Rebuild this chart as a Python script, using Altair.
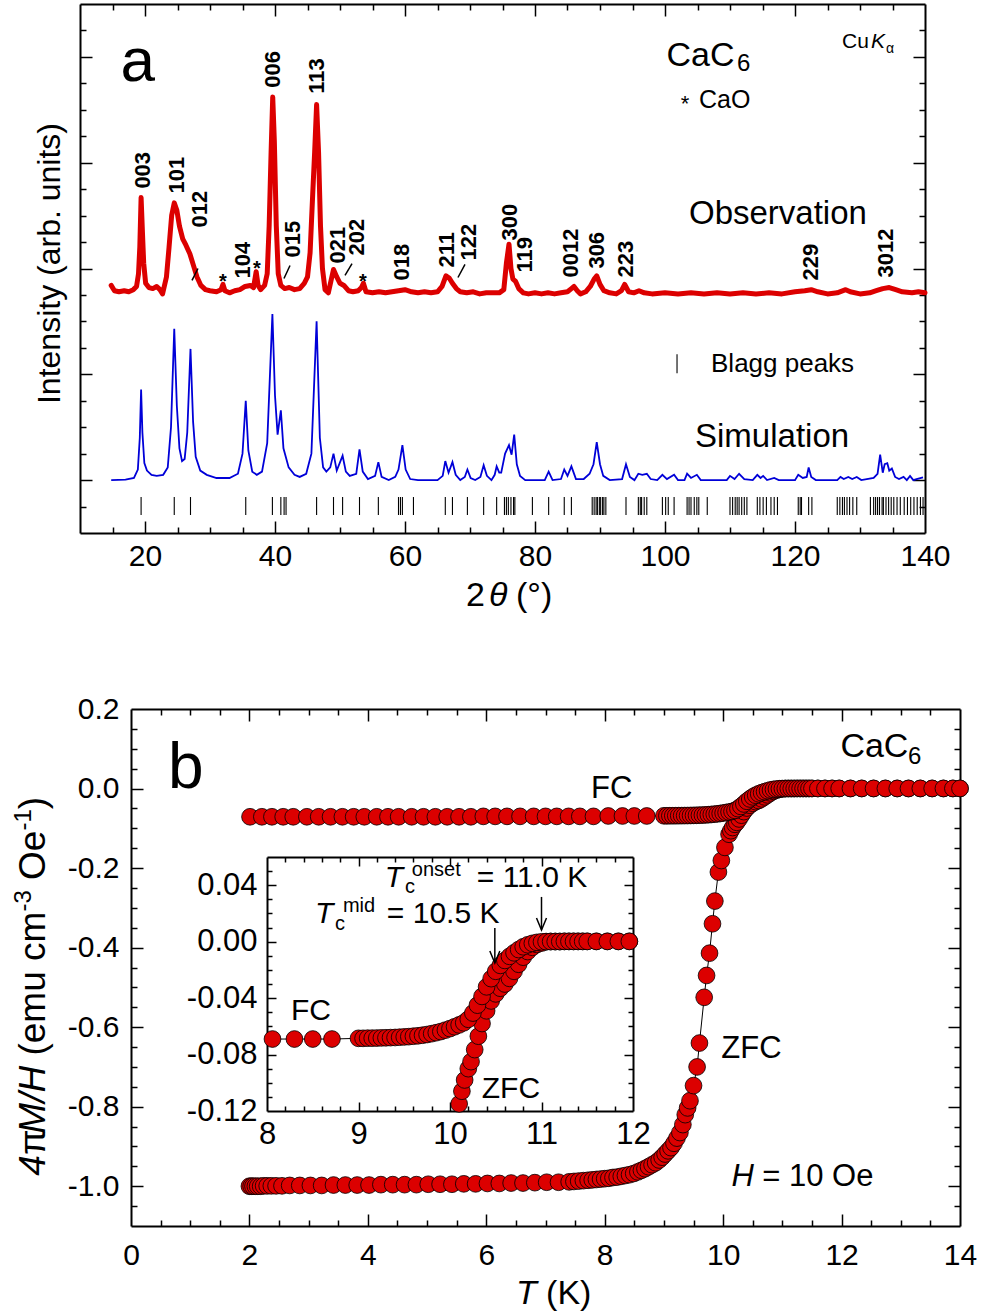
import altair as alt
import pandas as pd

W, H = 983, 1314
FONT = "Liberation Sans"
RED = "#dc0000"
BLUE = "#0000d8"

# ---------------- panel a : X-ray diffraction ----------------
obs_2theta = [14.8, 15.3, 16.0, 16.8, 17.5, 18.2, 18.7, 19.0, 19.2, 19.4, 19.6, 19.8, 20.1, 20.6, 21.2,
              21.8, 22.3, 22.7, 23.3, 23.7, 24.1, 24.5, 24.9, 25.3, 25.8, 26.3, 26.9, 27.5, 28.0, 28.6,
              29.3, 30.0, 31.0, 31.7, 32.0, 32.3, 33.0, 33.8, 34.6, 35.4, 36.2, 36.7, 37.1, 37.4, 37.8,
              38.4, 38.8, 39.1, 39.4, 39.65, 39.9, 40.2, 40.5, 40.9, 41.5, 42.2, 43.0, 43.8, 44.5, 45.0,
              45.4, 45.8, 46.1, 46.4, 46.7, 47.0, 47.3, 47.7, 48.2, 48.6, 49.0, 49.5, 50.0, 50.6, 51.3,
              52.0, 52.8, 53.3, 53.6, 54.0, 55.0, 56.0, 57.0, 58.0, 59.0, 60.0, 61.0, 62.0, 63.0, 64.0,
              65.0, 65.7, 66.3, 66.8, 67.3, 67.9, 68.5, 69.5, 70.5, 71.5, 72.5, 73.5, 74.5, 75.2, 75.6,
              76.0, 76.3, 76.6, 77.0, 77.5, 78.2, 79.0, 80.0, 81.0, 82.0, 83.0, 84.0, 85.0, 85.6, 86.0,
              86.5, 87.0, 87.8, 88.5, 89.1, 89.5, 90.0, 90.6, 91.5, 92.5, 93.3, 93.8, 94.4, 95.2, 96.0,
              96.8, 98.0, 100.0, 102.0, 104.0, 106.0, 108.0, 110.0, 112.0, 114.0, 116.0, 118.0, 120.0, 121.5, 122.5,
              123.5, 125.0, 126.5, 127.8, 128.5, 130.0, 131.5, 132.5, 133.5, 134.5, 135.5, 136.5, 138.0, 139.0, 140.0]
obs_intensity = [1.84, 1.79, 1.78, 1.79, 1.78, 1.80, 1.83, 1.95, 2.20, 2.67, 2.35, 2.05, 1.86, 1.82, 1.81,
                 1.83, 1.80, 1.76, 1.92, 2.20, 2.50, 2.62, 2.55, 2.40, 2.28, 2.22, 2.14, 2.02, 1.92, 1.84,
                 1.80, 1.79, 1.78, 1.80, 1.85, 1.79, 1.77, 1.79, 1.80, 1.83, 1.84, 1.82, 1.97, 1.84, 1.80,
                 1.84, 1.95, 2.40, 3.10, 3.62, 3.20, 2.40, 1.95, 1.84, 1.81, 1.82, 1.80, 1.81, 1.86, 1.92,
                 2.15, 2.70, 3.10, 3.55, 3.10, 2.40, 2.00, 1.80, 1.77, 1.88, 1.99, 1.92, 1.86, 1.84, 1.79,
                 1.78, 1.79, 1.82, 1.86, 1.78, 1.77, 1.78, 1.77, 1.78, 1.79, 1.80, 1.78, 1.77, 1.78, 1.77,
                 1.78, 1.83, 1.93, 1.91, 1.86, 1.81, 1.78, 1.77, 1.78, 1.76, 1.77, 1.77, 1.77, 1.80, 2.05,
                 2.23, 2.00, 1.90, 1.88, 1.81, 1.77, 1.76, 1.77, 1.76, 1.77, 1.76, 1.77, 1.78, 1.81, 1.83,
                 1.79, 1.76, 1.78, 1.83, 1.90, 1.93, 1.85, 1.79, 1.77, 1.76, 1.79, 1.85, 1.78, 1.77, 1.79,
                 1.77, 1.76, 1.77, 1.76, 1.77, 1.76, 1.77, 1.76, 1.77, 1.76, 1.77, 1.76, 1.78, 1.79, 1.80,
                 1.78, 1.76, 1.77, 1.80, 1.78, 1.76, 1.77, 1.79, 1.81, 1.82, 1.80, 1.78, 1.77, 1.78, 1.77]

sim_2theta = [14.8, 17.0, 18.3, 18.9, 19.2, 19.4, 19.6, 19.9, 20.3, 21.0, 21.8, 22.8, 23.5, 24.0, 24.5,
              24.9, 25.3, 25.7, 26.1, 26.5, 27.0, 27.4, 27.8, 28.5, 29.5, 31.0, 33.0, 34.3, 35.0, 35.5,
              35.9, 36.5, 37.2, 38.0, 38.8, 39.6, 40.0, 40.4, 40.9, 41.3, 42.1, 43.0, 43.8, 44.8, 45.6,
              46.4, 46.9, 47.4, 47.9, 48.5, 49.0, 49.5, 50.4, 50.9, 51.5, 52.5, 53.0, 53.5, 54.3, 55.4,
              55.9, 56.4, 57.5, 58.5, 59.0, 59.6, 60.1, 60.8, 62.0, 65.0, 65.8, 66.2, 66.7, 67.3, 67.8,
              68.5, 69.2, 69.6, 70.1, 70.8, 71.6, 72.1, 72.6, 73.3, 73.8, 74.1, 74.5, 74.8, 75.4, 76.0,
              76.4, 76.8, 77.2, 77.7, 78.5, 81.5, 82.1, 82.7, 84.0, 84.5, 85.0, 85.6, 86.3, 87.5, 88.4,
              89.0, 89.5, 90.0, 90.5, 91.5, 93.4, 94.0, 94.6, 95.3, 95.9, 96.5, 97.2, 97.8, 98.8, 99.6,
              100.3, 101.4, 102.0, 103.0, 103.4, 104.0, 104.9, 105.5, 109.5, 110.0, 110.7, 111.4, 112.2, 113.5, 114.2,
              114.7, 115.1, 115.7, 116.8, 117.5, 120.0, 120.5, 121.2, 121.8, 122.1, 122.5, 123.2, 126.5, 127.0, 127.5,
              128.2, 128.8, 129.5, 130.2, 132.1, 132.7, 133.1, 133.5, 133.8, 134.2, 134.5, 134.9, 135.4, 136.0, 136.7,
              137.2, 137.7, 138.2, 138.7, 139.7]
sim_intensity = [0.0, 0.005, 0.02, 0.10, 0.40, 0.855, 0.45, 0.16, 0.09, 0.05, 0.04, 0.05, 0.12, 0.50, 1.43,
                 0.70, 0.30, 0.18, 0.20, 0.45, 1.24, 0.55, 0.22, 0.09, 0.05, 0.02, 0.02, 0.06, 0.25, 0.75,
                 0.28, 0.08, 0.05, 0.08, 0.35, 1.57, 0.80, 0.43, 0.66, 0.30, 0.12, 0.05, 0.03, 0.06, 0.25,
                 1.50, 0.40, 0.12, 0.08, 0.12, 0.25, 0.09, 0.23, 0.08, 0.04, 0.06, 0.29, 0.08, 0.01, 0.04,
                 0.17, 0.03, 0.0, 0.03, 0.10, 0.33, 0.10, 0.01, 0.0, 0.0, 0.04, 0.18, 0.07, 0.17, 0.05,
                 0.0, 0.03, 0.10, 0.02, 0.0, 0.03, 0.14, 0.04, 0.0, 0.05, 0.13, 0.07, 0.07, 0.25, 0.33,
                 0.24, 0.43, 0.15, 0.04, 0.0, 0.0, 0.08, 0.0, 0.01, 0.10, 0.04, 0.13, 0.01, 0.01, 0.06,
                 0.15, 0.36, 0.15, 0.04, 0.0, 0.01, 0.15, 0.03, 0.0, 0.06, 0.05, 0.06, 0.01, 0.0, 0.05,
                 0.01, 0.05, 0.0, 0.0, 0.06, 0.02, 0.05, 0.0, 0.0, 0.04, 0.01, 0.06, 0.01, 0.0, 0.05,
                 0.02, 0.04, 0.0, 0.02, 0.0, 0.0, 0.05, 0.02, 0.03, 0.12, 0.03, 0.0, 0.0, 0.03, 0.01,
                 0.03, 0.01, 0.03, 0.0, 0.02, 0.06, 0.24, 0.07, 0.15, 0.16, 0.09, 0.11, 0.03, 0.01, 0.03,
                 0.0, 0.04, 0.0, 0.01, 0.025]

bragg_2theta = [19.4, 24.5, 27.0, 35.5, 39.6, 40.9, 41.4, 41.7, 46.4, 49.0, 50.4, 53.0, 55.9, 59.0, 59.3,
                59.6, 61.3, 66.2, 67.3, 69.6, 72.1, 74.1, 75.3, 75.6, 75.9, 76.3, 76.7, 76.9, 79.6, 82.1,
                84.5, 85.6, 88.8, 89.1, 89.4, 89.6, 89.9, 90.1, 90.4, 90.6, 90.9, 94.0, 95.9, 96.2, 96.4,
                96.8, 97.2, 99.6, 100.1, 100.5, 101.4, 103.4, 103.7, 104.0, 104.5, 104.9, 105.2, 106.5, 110.0,
                110.4, 110.8, 111.1, 111.4, 111.8, 112.2, 112.6, 114.2, 114.6, 115.1, 115.6, 116.3, 116.8, 117.3,
                120.5, 120.8, 121.0, 122.1, 122.6, 126.5, 126.9, 127.3, 127.6, 128.0, 128.4, 128.9, 129.5, 131.6,
                132.1, 132.4, 132.7, 133.0, 133.4, 133.6, 134.0, 134.4, 134.8, 135.2, 135.7, 136.2, 136.8, 137.3,
                137.8, 138.3, 138.8, 139.3, 139.7]

peak_names = ["003", "101", "012", "104", "006", "015", "113", "021", "202", "018",
              "211", "122", "300", "119", "0012", "306", "223", "229", "3012"]
peak_label_x = [19.69, 24.92, 28.46, 35.08, 39.69, 42.77, 46.46, 49.69, 52.62, 59.54,
                66.46, 69.85, 76.15, 78.46, 85.54, 89.54, 94.0, 122.46, 134.0]
peak_label_y = [2.755, 2.708, 2.387, 1.906, 3.708, 2.104, 3.651, 2.047, 2.123, 1.887,
                2.009, 2.075, 2.264, 1.962, 1.915, 1.999, 1.915, 1.887, 1.915]
cao_2theta = [32.0, 37.23, 53.54]
cao_y = [1.811, 1.943, 1.811]

# ---------------- panel b : magnetisation ----------------
fc_T = [2.01, 2.21, 2.38, 2.57, 2.74, 2.97, 3.17, 3.37, 3.57, 3.76, 3.94, 4.15, 4.34, 4.52, 4.74,
        4.94, 5.14, 5.34, 5.54, 5.74, 5.95, 6.15, 6.35, 6.57, 6.80, 7.00, 7.19, 7.39, 7.58, 7.81,
        8.06, 8.30, 8.50, 8.71,
        9.00, 9.05, 9.10, 9.15, 9.20, 9.25, 9.30, 9.35, 9.40, 9.45, 9.50, 9.55, 9.60, 9.65, 9.70,
        9.75, 9.80, 9.85, 9.90, 9.95, 10.00, 10.05, 10.10, 10.15, 10.20, 10.25, 10.30, 10.35, 10.40, 10.45,
        10.50, 10.55, 10.60, 10.65, 10.70, 10.75, 10.80, 10.85, 10.90, 10.95, 11.00, 11.05, 11.10, 11.15, 11.20,
        11.25, 11.30, 11.35, 11.40, 11.45, 11.50,
        11.60, 11.72, 11.84, 11.96, 12.15, 12.34, 12.54, 12.74, 12.94, 13.13, 13.33, 13.53, 13.72, 13.88, 14.00]
fc_M = [-0.071, -0.071, -0.071, -0.071, -0.071, -0.071, -0.071, -0.071, -0.071, -0.071, -0.071, -0.071,
        -0.071, -0.071, -0.071, -0.071, -0.071, -0.071, -0.071, -0.071, -0.070, -0.070, -0.070, -0.070,
        -0.070, -0.070, -0.070, -0.070, -0.070, -0.070,
        -0.069, -0.069, -0.069, -0.069,
        -0.0685, -0.0685, -0.0684, -0.0684, -0.0683, -0.0682, -0.0681, -0.0680, -0.0679, -0.0677, -0.0675,
        -0.0673, -0.0670, -0.0667, -0.0663, -0.0658, -0.0652, -0.0645, -0.0637, -0.0627, -0.0616, -0.0603,
        -0.0590, -0.0575, -0.0550, -0.0506, -0.0450, -0.0388, -0.0320, -0.0262, -0.0210, -0.0168, -0.0133,
        -0.0104, -0.0079, -0.0056, -0.0036, -0.0022, -0.0012, -0.0005, -0.0001, 0.0000, 0.0001, 0.0001,
        0.0001, 0.0002, 0.0002, 0.0002, 0.0002, 0.0002, 0.0002,
        0.0002, 0.0002, 0.0002, 0.0002, 0.0002, 0.0002, 0.0002, 0.0002, 0.0002, 0.0002, 0.0002, 0.0002,
        0.0002, 0.0002, 0.0002]

zfc_T = [2.00, 2.03, 2.06, 2.10, 2.14, 2.19, 2.24, 2.30, 2.37, 2.45, 2.55, 2.68, 2.85, 3.03, 3.22,
         3.42, 3.62, 3.82, 4.02, 4.22, 4.42, 4.62, 4.82, 5.02, 5.22, 5.42, 5.62, 5.82, 6.02, 6.22,
         6.42, 6.62, 6.82, 7.02, 7.22,
         7.40, 7.48, 7.56, 7.64, 7.72, 7.79, 7.86, 7.93, 8.00, 8.07, 8.14, 8.21, 8.28, 8.35, 8.42,
         8.49, 8.56, 8.62, 8.68, 8.74, 8.80, 8.86, 8.92, 8.97, 9.02, 9.07, 9.12, 9.17, 9.22, 9.27,
         9.32, 9.36, 9.40, 9.44, 9.50, 9.56, 9.60, 9.68, 9.72, 9.77, 9.82, 9.86, 9.92, 9.97, 10.03,
         10.10, 10.13, 10.16, 10.20, 10.23, 10.27, 10.31, 10.35, 10.40, 10.45, 10.50, 10.55, 10.60, 10.65, 10.70,
         10.75, 10.80, 10.85, 10.90, 10.95, 11.00, 11.05, 11.10, 11.15, 11.20, 11.25, 11.30, 11.35, 11.40, 11.45,
         11.50,
         11.60, 11.72, 11.84, 11.96, 12.15, 12.34, 12.54, 12.74, 12.94, 13.13, 13.33, 13.53, 13.72, 13.88, 14.00]
zfc_M = [-1.000, -1.000, -1.000, -1.000, -1.000, -1.000, -0.999, -0.999, -0.999, -0.999, -0.999, -0.998,
         -0.998, -0.998, -0.998, -0.997, -0.997, -0.997, -0.997, -0.996, -0.996, -0.996, -0.996, -0.995,
         -0.995, -0.995, -0.994, -0.994, -0.993, -0.993, -0.992, -0.992, -0.991, -0.990, -0.990,
         -0.989, -0.988, -0.987, -0.986, -0.985, -0.984, -0.983, -0.982, -0.981, -0.980, -0.978, -0.977,
         -0.975, -0.973, -0.971, -0.968, -0.964, -0.960, -0.956, -0.951, -0.946, -0.941, -0.934, -0.927,
         -0.919, -0.911, -0.903, -0.892, -0.879, -0.865,
         -0.845, -0.820, -0.803, -0.785, -0.747, -0.700, -0.640, -0.525, -0.470, -0.414, -0.340, -0.283,
         -0.210, -0.181, -0.148,
         -0.115, -0.106, -0.098, -0.090, -0.085, -0.0765, -0.067, -0.058, -0.049, -0.042, -0.037, -0.033,
         -0.030, -0.026, -0.021, -0.016, -0.011, -0.007, -0.004, -0.002, -0.001, 0.000, 0.0001, 0.0001,
         0.0001, 0.0002, 0.0002, 0.0002, 0.0002, 0.0002, 0.0002,
         0.0002, 0.0002, 0.0002, 0.0002, 0.0002, 0.0002, 0.0002, 0.0002, 0.0002, 0.0002, 0.0002, 0.0002,
         0.0002, 0.0002, 0.0002]

assert len(obs_2theta) == len(obs_intensity)
assert len(sim_2theta) == len(sim_intensity)
assert len(fc_T) == len(fc_M)
assert len(zfc_T) == len(zfc_M)

# ---------------- coordinate systems (domain, pixel range) ----------------
SYS = {
    "A": ([10, 140], [80, 925], [-0.5, 4.5], [533, 4]),
    "B": ([0, 14], [131, 960], [-1.1, 0.2], [1226, 709]),
    "I": ([8, 12], [267, 633], [-0.12, 0.06], [1111, 857]),
}


def xsc(s):
    return alt.Scale(domain=SYS[s][0], range=SYS[s][1], zero=False, nice=False)


def ysc(s):
    return alt.Scale(domain=SYS[s][2], range=SYS[s][3], zero=False, nice=False)


def XY(s):
    return dict(x=alt.X("x:Q", scale=xsc(s), axis=None),
                y=alt.Y("y:Q", scale=ysc(s), axis=None))


def texts(s, items, size, style="normal", weight="normal", align="left",
          baseline="alphabetic", angle=0):
    df = pd.DataFrame(items, columns=["t", "x", "y"])
    return alt.Chart(df).mark_text(font=FONT, fontSize=size, fontStyle=style, fontWeight=weight,
                                   align=align, baseline=baseline, angle=angle,
                                   color="black").encode(text="t:N", **XY(s))


def segs(s, items, width=1.5):
    df = pd.DataFrame(items, columns=["x", "y", "x2", "y2"])
    return alt.Chart(df).mark_rule(color="black", strokeWidth=width).encode(
        x2="x2:Q", y2="y2:Q", **XY(s))


def tick_cond(step, big, small):
    return {"condition": {"test": f"abs(datum.value/{step} - round(datum.value/{step})) < 0.001",
                          "value": big}, "value": small}


def axis_layers(s, xticks, xstep, yticks, ystep, big, small,
                xlab, ylab, lsize, xpad, ypad, yexpr=None):
    xd, xr, yd, yr = SYS[s]
    base = dict(grid=False, title="", domainColor="black", domainWidth=2,
                tickColor="black", tickWidth=1.5, labels=False)
    dummy = pd.DataFrame({"x": [xd[0]], "y": [yd[0]]})

    def layer(xaxis, yaxis):
        return alt.Chart(dummy).mark_point(opacity=0).encode(
            x=alt.X("x:Q", scale=xsc(s), axis=xaxis),
            y=alt.Y("y:Q", scale=ysc(s), axis=yaxis))

    l1 = layer(alt.Axis(orient="top", offset=-yr[0], values=xticks,
                        tickSize=tick_cond(xstep, big, small), **base),
               alt.Axis(orient="right", offset=xr[0] - W, values=yticks,
                        tickSize=tick_cond(ystep, big, small), **base))
    l2 = layer(alt.Axis(orient="bottom", offset=yr[1] - H, values=xticks,
                        tickSize=tick_cond(xstep, big, small), **base),
               alt.Axis(orient="left", offset=-xr[1], values=yticks,
                        tickSize=tick_cond(ystep, big, small), **base))
    labbase = dict(grid=False, title="", domain=False, ticks=False, tickSize=0,
                   labelFont=FONT, labelFontSize=lsize, labelColor="black",
                   labelFlush=False, labelOverlap=False)
    xa = alt.Axis(orient="bottom", offset=yr[0] - H, values=xlab, labelPadding=xpad, **labbase)
    if ylab is not None:
        ya = alt.Axis(orient="left", offset=-xr[0], values=ylab, labelPadding=ypad,
                      labelExpr=yexpr, **labbase)
    else:
        ya = None
    l3 = layer(xa, ya)
    return [l1, l2, l3]


layers = []

# ---------- panel a ----------
layers += axis_layers("A", [v for v in range(15, 140, 5)], 20,
                      [round(-0.25 + 0.25 * i, 2) for i in range(19)], 1, 12, 6,
                      [20, 40, 60, 80, 100, 120, 140], None, 30, 8, 8)

sim_df = pd.DataFrame({"x": sim_2theta, "y": sim_intensity})
obs_df = pd.DataFrame({"x": obs_2theta, "y": obs_intensity})
layers.append(alt.Chart(sim_df).mark_line(color=BLUE, strokeWidth=1.8).encode(**XY("A")))
layers.append(alt.Chart(obs_df).mark_line(color=RED, strokeWidth=5, strokeJoin="round",
                                          strokeCap="round").encode(**XY("A")))

bragg_df = pd.DataFrame({"x": bragg_2theta, "y": -0.16, "x2": bragg_2theta, "y2": -0.33})
layers.append(alt.Chart(bragg_df).mark_rule(color="black", strokeWidth=1.1).encode(
    x2="x2:Q", y2="y2:Q", **XY("A")))
layers.append(segs("A", [(101.85, 1.01, 101.85, 1.19)], width=1.1))

layers.append(texts("A", list(zip(peak_names, peak_label_x, peak_label_y)), 22,
                    weight="bold", align="left", baseline="middle", angle=270))
layers.append(segs("A", [(27.23, 1.887, 28.15, 2.0), (41.38, 1.906, 42.31, 2.028),
                         (50.77, 1.934, 51.85, 2.047), (68.15, 1.915, 69.23, 2.038)], width=1.5))
layers.append(texts("A", [("*", x, y) for x, y in zip(cao_2theta, cao_y)], 20,
                    weight="bold", align="center"))

layers.append(texts("A", [("a", 16.23, 3.774)], 62))
layers.append(texts("A", [("CaC", 100.23, 3.915)], 34))
layers.append(texts("A", [("6", 111.08, 3.868)], 24))
layers.append(texts("A", [("*", 103.08, 3.491)], 22, align="center"))
layers.append(texts("A", [("CaO", 105.23, 3.519)], 25))
layers.append(texts("A", [("Cu", 127.23, 4.085)], 21))
layers.append(texts("A", [("K", 131.69, 4.085)], 21, style="italic"))
layers.append(texts("A", [("α", 134.0, 4.04)], 14))
layers.append(texts("A", [("Observation", 103.69, 2.425), ("Simulation", 104.62, 0.311)], 33))
layers.append(texts("A", [("Blagg peaks", 107.08, 1.021)], 26))
layers.append(texts("A", [("Intensity (arb. units)", 6.92, 2.047)], 32, align="center", angle=270))
layers.append(texts("A", [("2", 69.38, -1.189), ("(°)", 77.08, -1.189)], 34))
layers.append(texts("A", [("θ", 72.92, -1.189)], 34, style="italic"))

# ---------- panel b ----------
layers += axis_layers("B", [0.5 * i for i in range(1, 28)], 2,
                      [round(-1.05 + 0.05 * i, 2) for i in range(25)], 0.2, 12, 6,
                      [0, 2, 4, 6, 8, 10, 12, 14], [-1.0, -0.8, -0.6, -0.4, -0.2, 0.0, 0.2],
                      30, 14, 12,
                      yexpr="(datum.value < -1e-9 ? '-' : '') + format(abs(datum.value), '.1f')")

fc_df = pd.DataFrame({"x": fc_T, "y": fc_M})
zfc_df = pd.DataFrame({"x": zfc_T, "y": zfc_M})


def line(s, df):
    return alt.Chart(df).mark_line(color="black", strokeWidth=1).encode(**XY(s))


def dots(s, df):
    return alt.Chart(df).mark_circle(color=RED, stroke="black", strokeWidth=0.8, size=280,
                                     opacity=1).encode(**XY(s))


layers += [line("B", zfc_df), line("B", fc_df), dots("B", zfc_df), dots("B", fc_df)]

layers.append(texts("B", [("b", 0.625, 0.0025)], 64))
layers.append(texts("B", [("CaC", 11.98, 0.0805)], 34))
layers.append(texts("B", [("6", 13.12, 0.0629)], 24))
layers.append(texts("B", [("FC", 7.77, -0.0226), ("ZFC", 9.97, -0.677), ("= 10 Oe", 10.66, -0.9987)], 31))
layers.append(texts("B", [("H", 10.14, -0.9987)], 31, style="italic"))
layers.append(texts("B", [("T", 6.50, -1.2956)], 34, style="italic"))
layers.append(texts("B", [("(K)", 7.01, -1.2956)], 34))
# rotated y title, built from pieces
layers.append(texts("B", [("4", -1.453, -0.9736), ("M/H", -1.453, -0.8679)], 37, style="italic", angle=270))
layers.append(texts("B", [("π", -1.453, -0.9217), ("(emu cm", -1.453, -0.6714),
                          ("Oe", -1.453, -0.2299), (")", -1.453, -0.0521)], 37, angle=270))
layers.append(texts("B", [("-3", -1.689, -0.3094), ("-1", -1.689, -0.1057)], 24, angle=270))

# ---------- inset ----------
layers += axis_layers("I", [round(8 + 0.2 * i, 1) for i in range(1, 20)], 1,
                      [round(-0.11 + 0.01 * i, 2) for i in range(17)], 0.04, 9, 5,
                      [8, 9, 10, 11, 12], [-0.12, -0.08, -0.04, 0.0, 0.04],
                      31, 8, 10,
                      yexpr="(datum.value < -1e-9 ? '-' : '') + format(abs(datum.value), '.2f')")


def in_inset(df):
    return df[(df.x >= 8) & (df.x <= 12) & (df.y >= -0.12) & (df.y <= 0.06)]


fc_in = in_inset(fc_df)
zfc_in = in_inset(zfc_df)
layers += [line("I", zfc_in), line("I", fc_in), dots("I", zfc_in), dots("I", fc_in)]

layers.append(texts("I", [("T", 9.288, 0.0388), ("T", 8.524, 0.0133)], 30, style="italic"))
layers.append(texts("I", [("c", 9.507, 0.0345), ("c", 8.742, 0.0083)], 20))
layers.append(texts("I", [("onset", 9.583, 0.0462), ("mid", 8.830, 0.0210)], 20))
layers.append(texts("I", [("= 11.0 K", 10.293, 0.0388), ("= 10.5 K", 9.310, 0.0133),
                          ("FC", 8.262, -0.0555), ("ZFC", 10.347, -0.1108)], 30))
layers.append(segs("I", [(11.0, 0.0317, 11.0, 0.0086), (10.49, 0.0097, 10.49, -0.0148)], width=1.5))
arrow_df = pd.DataFrame({"x": [11.0, 10.49], "y": [0.0083, -0.0151]})
layers.append(alt.Chart(arrow_df).mark_point(shape="M-1,-2.4L0,0L1,-2.4", filled=False, stroke="black",
                                             strokeWidth=1.5, size=100, opacity=1).encode(**XY("I")))

chart = alt.layer(*layers).resolve_scale(x="independent", y="independent").properties(
    width=W, height=H, padding=0, autosize=alt.AutoSizeParams(type="none"),
    background="white").configure_view(stroke="transparent")

chart.save("out.html", embed_options={"renderer": "svg", "actions": False})
